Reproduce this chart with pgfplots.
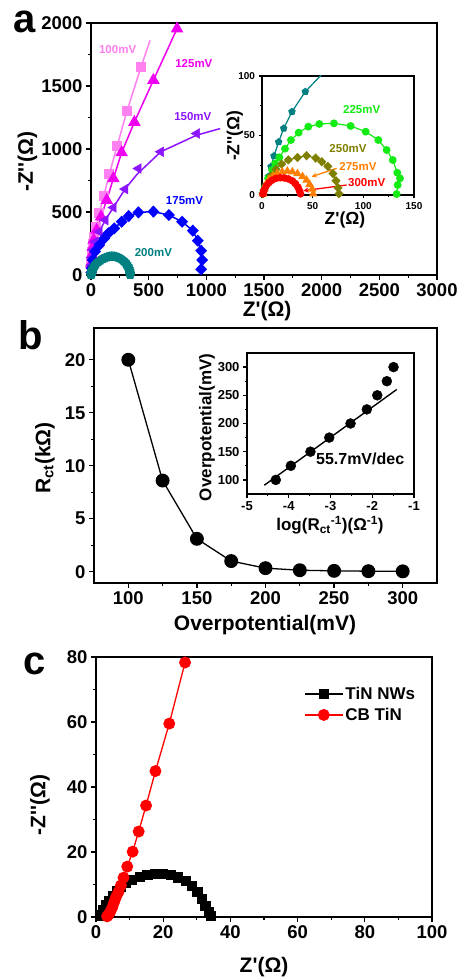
\documentclass[border=0pt]{standalone}
\usepackage{fontspec}
\setmainfont{Liberation Sans}
\usepackage{pgfplots}
\pgfplotsset{compat=1.18}

\definecolor{c100}{RGB}{255,128,240}
\definecolor{c125}{RGB}{240,0,240}
\definecolor{c150}{RGB}{140,20,255}
\definecolor{c175}{RGB}{0,0,255}
\definecolor{c200}{RGB}{0,128,128}
\definecolor{c225}{RGB}{20,235,20}
\definecolor{c250}{RGB}{128,128,0}
\definecolor{c275}{RGB}{255,128,0}
\definecolor{c300}{RGB}{255,0,0}

\newcommand{\fs}[1]{\fontsize{#1}{#1}\selectfont\bfseries}
\newcommand{\q}{\textquotesingle}

\pgfplotsset{
  panel/.style={
    scale only axis,
    anchor=south west,
    axis line style={line width=1.8pt},
    major tick style={line width=1.3pt, black},
    minor tick style={line width=1.1pt, black},
    tick align=outside,
    tick pos=left,
    major tick length=5pt, minor tick length=3pt,
    minor tick num=1,
    scaled ticks=false,
    /pgf/number format/1000 sep={},
    /pgf/number format/assume math mode=true,
    axis background/.style={fill=white},
  },
}

\begin{document}
\begin{tikzpicture}
\useasboundingbox (0,0) rectangle (459pt,978pt);

% ---------------- panel a
\begin{axis}[panel, at={(91pt,703pt)}, width=346pt, height=252pt,
  xmin=0, xmax=3000, ymin=0, ymax=2000,
  xtick={0,500,...,3000}, ytick={0,500,...,2000},
  tick label style={font=\fs{18.5}},
  label style={font=\fs{21}},
  xlabel={Z\q(Ω)}, ylabel={-Z\q\q(Ω)},
  x label style={at={(axis description cs:0.509,-0.143)}, anchor=center},
  y label style={at={(axis description cs:-0.1835,0.45)}, anchor=center},
]
\addplot[c100, line width=1.5pt, mark=square*, mark size=4.2pt] coordinates {
  (3,100) (8,180) (15,250) (23,300) (43,378) (72,489) (110,626) (159,800)
  (226,1022) (312,1302) (434,1651)};
\addplot[c100, line width=1.5pt] coordinates {(434,1651) (512,1862)};
\addplot[c125, line width=1.5pt, mark=triangle*, mark size=5.8pt] coordinates {
  (3,90) (8,160) (15,220) (23,277) (49,357) (87,462) (136,594) (194,766)
  (266,972) (376,1213) (541,1546) (746,1955)};
\addplot[c150, line width=1.5pt] coordinates {
  (3,80) (38,264) (72,343) (124,436) (194,536) (295,682) (400,800) (605,978)
  (917,1110) (1120,1162)};
\addplot[c150, only marks, mark=triangle*, mark size=5.6pt, mark options={rotate=90}] coordinates {
  (3,80) (8,140) (18,200) (38,264) (72,343) (124,436) (194,536) (295,682)
  (411,845) (605,978) (917,1123)};
\addplot[c175, line width=1.5pt, mark=diamond*, mark size=5pt, mark options={xscale=1.3}] coordinates {
  (2,20) (5,53) (14,119) (35,185) (72,238) (115,291) (150,331) (202,370)
  (266,423) (327,468) (411,497) (541,503) (675,476) (790,423) (883,352)
  (926,272) (955,193) (964,119) (955,45)};
\addplot[c200, line width=1.5pt, mark=pentagon*, mark size=4.3pt] coordinates {
  (0.5,1) (1.5,3.5) (3.6,7) (6.3,15.4) (8.9,23.8) (11.8,32.8) (16.4,44.5)
  (21.4,56) (29.6,70) (42.7,86.8) (62,104) (80,116) (100,127) (120,135)
  (140,142) (160,146) (180,148) (200,147) (220,143) (240,137) (260,128)
  (278,116) (294,102) (308,85) (320,67) (329,48) (335,30) (339,12) (340,3)};
\node[c100, font=\fs{11.5}] at (axis cs:231,1786) {100mV};
\node[c125, font=\fs{11.5}] at (axis cs:892,1680) {125mV};
\node[c150, font=\fs{11.5}] at (axis cs:883,1256) {150mV};
\node[c175, font=\fs{11.5}] at (axis cs:811,587) {175mV};
\node[c200, font=\fs{11.5}] at (axis cs:541,177) {200mV};
\end{axis}

% ---------------- inset a
\begin{axis}[panel, at={(262pt,783pt)}, width=152pt, height=119pt,
  xmin=0, xmax=150, ymin=0, ymax=100,
  xtick={0,50,100,150}, ytick={0,50,100},
  major tick length=3.5pt, minor tick length=2pt,
  tick label style={font=\fs{10}},
  label style={font=\fs{17.5}},
  xlabel={Z\q(Ω)}, ylabel={-Z\q\q(Ω)},
  x label style={at={(axis description cs:0.546,-0.21)}, anchor=center},
  y label style={at={(axis description cs:-0.178,0.498)}, anchor=center},
]
\addplot[c200, line width=1.2pt, mark=pentagon*, mark size=3.2pt] coordinates {
  (0.5,1) (1.5,3.5) (3.6,7) (6.3,15.4) (8.9,23.8) (11.8,32.8) (16.4,44.5)
  (21.4,56) (29.6,70) (42.7,86.8) (62,104) (80,116)};
\addplot[c225, line width=1.2pt, mark=*, mark size=3.3pt] coordinates {
  (1,1) (3,7) (6,14) (10,21) (13,26.5) (17.1,31.7) (22.7,38.9) (28.6,46.2)
  (36.2,52.4) (45.7,57.4) (56.6,59.7) (71,60.2) (87.5,58) (102.3,53.2)
  (114.8,46.2) (123,37.8) (129,29.4) (133.5,18.7) (136.2,14) (133.9,8.4)
  (132.9,0.8)};
\addplot[c250, line width=1.2pt, mark=diamond*, mark size=3.8pt, mark options={xscale=1.3}] coordinates {
  (1,1) (2,4) (4.6,9) (8.8,16) (13.8,21.5) (19.4,26) (26,29.5) (35,31.5)
  (44,33) (53,31) (59,28) (65,24) (70,18) (73,12) (75,6) (76,1)};
\addplot[c275, line width=1.2pt, mark=triangle*, mark size=3.8pt] coordinates {
  (1,1) (2,5) (4,9) (7,13) (11,16) (15,18) (20,19.5) (25,20) (30,19.5)
  (35,18) (40,15.5) (44,12.5) (47,9) (49.5,5) (50.5,1)};
\addplot[c300, line width=1.2pt, mark=*, mark size=3.2pt] coordinates {
  (1,1) (2,4) (4,7.5) (7,10.5) (10,12.5) (14,14) (18,14.5) (22,14.3)
  (26,13.5) (30,11.8) (33,9.5) (35.5,6.5) (37,3.5) (38,1)};
\draw[c275, line width=1.3pt, -stealth] (axis cs:73.7,22.4) -- (axis cs:49,15.4);
\draw[c300, line width=1.3pt, -stealth] (axis cs:83.6,8.4) -- (axis cs:40.8,3.6);
\node[c225, font=\fs{11.5}] at (axis cs:98.4,71.4) {225mV};
\node[c250, font=\fs{11.5}] at (axis cs:84.9,38.9) {250mV};
\node[c275, font=\fs{11.5}] at (axis cs:94.7,23.8) {275mV};
\node[c300, font=\fs{11.5}] at (axis cs:103.3,10.3) {300mV};
\end{axis}

% ---------------- panel b
\begin{axis}[panel, at={(94pt,395pt)}, width=343pt, height=255pt,
  xmin=75, xmax=325, ymin=-1.07, ymax=23,
  xtick={100,150,...,300}, ytick={0,5,...,20},
  tick label style={font=\fs{18.5}},
  label style={font=\fs{21}},
  xlabel={Overpotential(mV)}, ylabel={R\textsubscript{ct}(kΩ)},
  x label style={at={(axis description cs:0.4985,-0.165)}, anchor=center},
  y label style={at={(axis description cs:-0.143,0.49)}, anchor=center},
]
\addplot[black, line width=1.3pt, mark=*, mark size=6.3pt] coordinates {
  (100,20) (125,8.6) (150,3.1) (175,1.0) (200,0.33) (225,0.135) (250,0.076)
  (275,0.045) (300,0.031)};
\end{axis}

% ---------------- inset b
\begin{axis}[panel, at={(247pt,484pt)}, width=167pt, height=141pt,
  xmin=-5, xmax=-1, ymin=75, ymax=325,
  xtick={-5,-4,...,-1}, ytick={100,150,...,300},
  major tick length=4pt, minor tick length=2.5pt,
  tick label style={font=\fs{13}},
  label style={font=\fs{17}},
  xlabel={log(R\textsubscript{ct}\textsuperscript{-1})(Ω\textsuperscript{-1})},
  ylabel={Overpotential(mV)},
  x label style={at={(axis description cs:0.497,-0.22)}, anchor=center},
  y label style={at={(axis description cs:-0.24,0.472)}, anchor=center},
]
\addplot[black, only marks, mark=*, mark size=5pt] coordinates {
  (-4.31,100) (-3.95,125) (-3.48,150) (-3.03,175) (-2.52,200) (-2.13,225)
  (-1.88,250) (-1.65,275) (-1.49,300)};
\addplot[black, line width=1.4pt] coordinates {(-4.585,90.6) (-1.414,260.3)};
\node[font=\fs{16}] at (axis cs:-2.29,136.8) {55.7mV/dec};
\end{axis}

% ---------------- panel c
\begin{axis}[panel, at={(96pt,61pt)}, width=336pt, height=260pt,
  xmin=0, xmax=100, ymin=0, ymax=80,
  xtick={0,20,...,100}, ytick={0,20,...,80},
  tick label style={font=\fs{18.5}},
  label style={font=\fs{21}},
  xlabel={Z\q(Ω)}, ylabel={-Z\q\q(Ω)},
  x label style={at={(axis description cs:0.5,-0.194)}, anchor=center},
  y label style={at={(axis description cs:-0.167,0.431)}, anchor=center},
  legend style={at={(axis description cs:0.61,0.90)}, anchor=north west,
    draw=none, fill=none, font=\fs{17}, row sep=3pt},
  legend cell align=left,
  legend image code/.code={
    \draw[mark repeat=2, mark phase=2, #1] plot coordinates {(0pt,0pt) (19pt,0pt) (38pt,0pt)};},
]
\addplot[black, line width=1.3pt, mark=square*, mark size=4.5pt] coordinates {
  (1.5,0.5) (2.2,2) (3,3.5) (4,5) (5,6.5) (6.2,8) (7.5,9.3) (9,10.4)
  (10.8,11.4) (13,12.3) (15.3,12.9) (17.5,13.2) (20,13.2) (22.3,12.9)
  (24.5,12.2) (26.7,11.1) (28.6,9.6) (30.2,7.7) (31.5,5.5) (32.6,3.4)
  (33.6,1.6) (34.3,0.4)};
\addlegendentry{TiN NWs}
\addplot[red, line width=1.3pt, mark=*, mark size=5.3pt] coordinates {
  (3.3,0.2) (3.8,0.8) (4.3,1.7) (4.9,3.1) (5.4,4.6) (6.0,6.2) (6.7,7.7)
  (7.4,9.7) (8.2,12.1) (9.3,15.5) (10.9,20.1) (12.7,26.3) (14.9,34.3)
  (17.7,44.9) (21.8,59.5) (26.5,78.3)};
\addlegendentry{CB TiN}
\end{axis}

\node[anchor=base west, inner sep=0pt, font=\fs{40}] at (13pt,945pt) {a};
\node[anchor=base west, inner sep=0pt, font=\fs{40}] at (18pt,628pt) {b};
\node[anchor=base west, inner sep=0pt, font=\fs{40}] at (23pt,303pt) {c};
\end{tikzpicture}
\end{document}
